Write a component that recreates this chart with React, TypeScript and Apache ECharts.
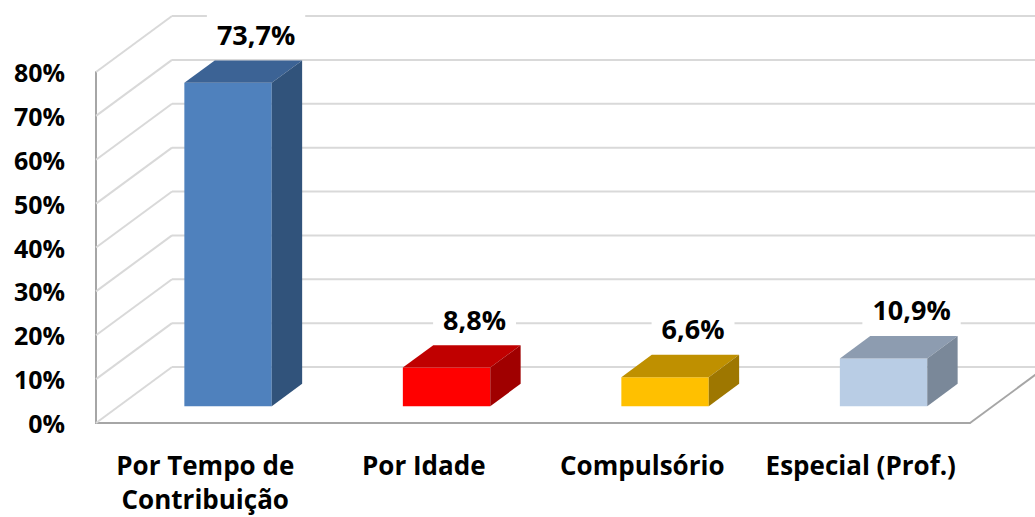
import React, { useEffect, useRef } from "react";
import * as echarts from "echarts";

const categories = ["Por Tempo de\nContribuição", "Por Idade", "Compulsório", "Especial (Prof.)"];
const values = [73.7, 8.8, 6.6, 10.9];
const yTicks = [0, 10, 20, 30, 40, 50, 60, 70, 80];
const frontColors = ["#4F81BD", "#FF0000", "#FFC000", "#B9CDE5"];
const topColors = ["#3C6395", "#C00000", "#BF9000", "#8D9CB0"];
const sideColors = ["#31537B", "#A00000", "#9E7700", "#7A8899"];

const DX = 76;
const DY = -56;
const D_FRONT = 0.3;
const D_BACK = 0.7;
const FONT = "'Open Sans', Lato, sans-serif";

const fmt = (v: number) => v.toFixed(1).replace(".", ",") + "%";

export default function App() {
  const ref = useRef<HTMLDivElement>(null);
  useEffect(() => {
    if (!ref.current) return;
    const chart = echarts.init(ref.current, undefined, { renderer: "svg" });
    chart.setOption({
      animation: false,
      backgroundColor: "#ffffff",
      grid: { left: 96, right: 65, top: 72, bottom: 94, containLabel: false, outerBoundsMode: "none" },
      xAxis: {
        type: "category",
        data: categories,
        axisLine: { show: true, lineStyle: { color: "#A6A6A6", width: 2 } },
        axisTick: { show: false },
        axisLabel: {
          interval: 0,
          margin: 25,
          color: "#000",
          fontFamily: FONT,
          fontWeight: "bold",
          fontSize: 26,
          lineHeight: 34,
        },
      },
      yAxis: {
        type: "value",
        min: 0,
        max: 80,
        interval: 10,
        axisLine: { show: true, lineStyle: { color: "#A6A6A6", width: 2 } },
        axisTick: { show: false },
        splitLine: { show: false },
        axisLabel: {
          margin: 31,
          color: "#000",
          fontFamily: FONT,
          fontWeight: "bold",
          fontSize: 25,
          formatter: "{value}%",
        },
      },
      series: [
        {
          type: "custom",
          z: 1,
          silent: true,
          data: yTicks.map((t) => [0, t]),
          encode: { x: 0, y: 1 },
          renderItem: (params: any, api: any) => {
            const cs = params.coordSys;
            const v = api.value(1);
            const y = api.coord([0, v])[1];
            const children: any[] = [
              {
                type: "line",
                shape: { x1: cs.x, y1: y, x2: cs.x + DX, y2: y + DY },
                style: { stroke: "#D9D9D9", lineWidth: 2 },
              },
              {
                type: "line",
                shape: { x1: cs.x + DX, y1: y + DY, x2: cs.x + cs.width + DX, y2: y + DY },
                style: { stroke: "#D9D9D9", lineWidth: 2 },
              },
            ];
            if (v === 0) {
              children.push({
                type: "line",
                shape: {
                  x1: cs.x + cs.width,
                  y1: y,
                  x2: cs.x + cs.width + DX,
                  y2: y + DY,
                },
                style: { stroke: "#A6A6A6", lineWidth: 2 },
              });
            }
            return { type: "group", children };
          },
        },
        {
          type: "custom",
          z: 3,
          data: values.map((v, i) => [i, v]),
          encode: { x: 0, y: 1 },
          renderItem: (params: any, api: any) => {
            const i = api.value(0);
            const v = api.value(1);
            const base = api.coord([i, 0]);
            const top = api.coord([i, v]);
            const band = api.size([1, 0])[0];
            const w = band * 0.4;
            const fx = DX * D_FRONT;
            const fy = DY * D_FRONT;
            const bdx = DX * (D_BACK - D_FRONT);
            const bdy = DY * (D_BACK - D_FRONT);
            const x0 = base[0] - w / 2 + fx;
            const x1 = x0 + w;
            const yb = base[1] + fy;
            const yt = top[1] + fy;
            return {
              type: "group",
              children: [
                {
                  type: "rect",
                  shape: { x: x0, y: yt, width: w, height: yb - yt },
                  style: { fill: frontColors[i] },
                },
                {
                  type: "polygon",
                  shape: {
                    points: [
                      [x0, yt],
                      [x1, yt],
                      [x1 + bdx, yt + bdy],
                      [x0 + bdx, yt + bdy],
                    ],
                  },
                  style: { fill: topColors[i] },
                },
                {
                  type: "polygon",
                  shape: {
                    points: [
                      [x1, yt],
                      [x1 + bdx, yt + bdy],
                      [x1 + bdx, yb + bdy],
                      [x1, yb],
                    ],
                  },
                  style: { fill: sideColors[i] },
                },
                {
                  type: "text",
                  x: x0 + w / 2 + 28,
                  y: yt + bdy - 26,
                  style: {
                    text: fmt(v),
                    fill: "#000",
                    fontFamily: FONT,
                    fontWeight: "bold",
                    fontSize: 27,
                    align: "center",
                    verticalAlign: "middle",
                    backgroundColor: "#ffffff",
                    padding: [8, 10],
                  },
                },
              ],
            };
          },
        },
      ],
    });
    return () => chart.dispose();
  }, []);
  return (
    <div
      ref={ref}
      style={{ position: "fixed", left: 0, top: 0, width: 1035, height: 517 }}
    />
  );
}
